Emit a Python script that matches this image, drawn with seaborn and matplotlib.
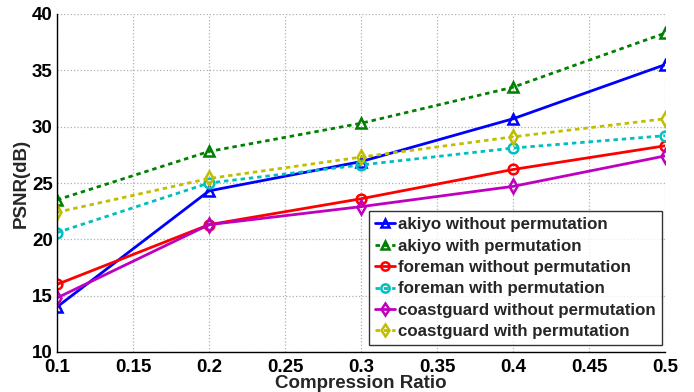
import matplotlib
matplotlib.use("Agg")
import matplotlib.pyplot as plt
import seaborn as sns
import pandas as pd

ratios = [0.1, 0.2, 0.3, 0.4, 0.5]
akiyo_without = [14.0, 24.3, 26.9, 30.7, 35.5]
akiyo_with = [23.5, 27.8, 30.3, 33.5, 38.3]
foreman_without = [16.0, 21.3, 23.6, 26.2, 28.3]
foreman_with = [20.6, 25.0, 26.6, 28.1, 29.2]
coastguard_without = [14.8, 21.3, 22.9, 24.7, 27.4]
coastguard_with = [22.4, 25.4, 27.3, 29.1, 30.7]

series = [
    ("akiyo without permutation", akiyo_without, (0, 0, 1), "^", "-"),
    ("akiyo with permutation", akiyo_with, (0, 0.5, 0), "^", (0, (1.6, 1.4))),
    ("foreman without permutation", foreman_without, (1, 0, 0), "o", "-"),
    ("foreman with permutation", foreman_with, (0, 0.75, 0.75), "o", (0, (1.6, 1.4))),
    ("coastguard without permutation", coastguard_without, (0.75, 0, 0.75), "d", "-"),
    ("coastguard with permutation", coastguard_with, (0.75, 0.75, 0), "d", (0, (1.6, 1.4))),
]

sns.set_style("white")
plt.rcParams["font.family"] = ["Liberation Sans", "DejaVu Sans"]
plt.rcParams["font.weight"] = "bold"

fig = plt.figure(figsize=(6.94, 3.92), dpi=100)
ax = fig.add_axes([57 / 694, 1 - 352 / 392, 608 / 694, 338 / 392])

for name, vals, color, marker, ls in series:
    df = pd.DataFrame({"ratio": ratios, "psnr": vals})
    sns.lineplot(data=df, x="ratio", y="psnr", ax=ax, color=color, marker=marker,
                 linestyle=ls, linewidth=2, markersize=7, markerfacecolor="none",
                 markeredgecolor=color, markeredgewidth=1.8, label=name)

ax.set_xlim(0.1, 0.5)
ax.set_ylim(10, 40)
ax.set_xticks([0.1, 0.15, 0.2, 0.25, 0.3, 0.35, 0.4, 0.45, 0.5])
ax.set_xticklabels(["0.1", "0.15", "0.2", "0.25", "0.3", "0.35", "0.4", "0.45", "0.5"])
ax.set_yticks([10, 15, 20, 25, 30, 35, 40])
ax.grid(True, linestyle=":", color="#b0b0b0", linewidth=0.9)
for s in ["top", "right"]:
    ax.spines[s].set_visible(False)
for s in ["left", "bottom"]:
    ax.spines[s].set_color("black")
    ax.spines[s].set_linewidth(1.0)
ax.tick_params(direction="in", length=4, labelsize=13.5, width=1, colors="black")
ax.tick_params(axis="x", pad=5)
ax.tick_params(axis="y", pad=3)
for lab in ax.get_xticklabels() + ax.get_yticklabels():
    lab.set_fontweight("bold")
ax.set_xlabel("Compression Ratio", fontsize=13.5, fontweight="bold", labelpad=-1)
ax.set_ylabel("PSNR(dB)", fontsize=13.5, fontweight="bold", labelpad=2)

leg = ax.legend(loc="lower right", bbox_to_anchor=(0.995, 0.02), fontsize=12.2,
                frameon=True, fancybox=False, edgecolor="black", handlelength=1.2,
                handletextpad=0.2, borderpad=0.35, labelspacing=0.38, borderaxespad=0,
                markerscale=0.85)
leg.get_frame().set_linewidth(1.0)
for t in leg.get_texts():
    t.set_fontweight("bold")

fig.savefig("out.png", dpi=100)
